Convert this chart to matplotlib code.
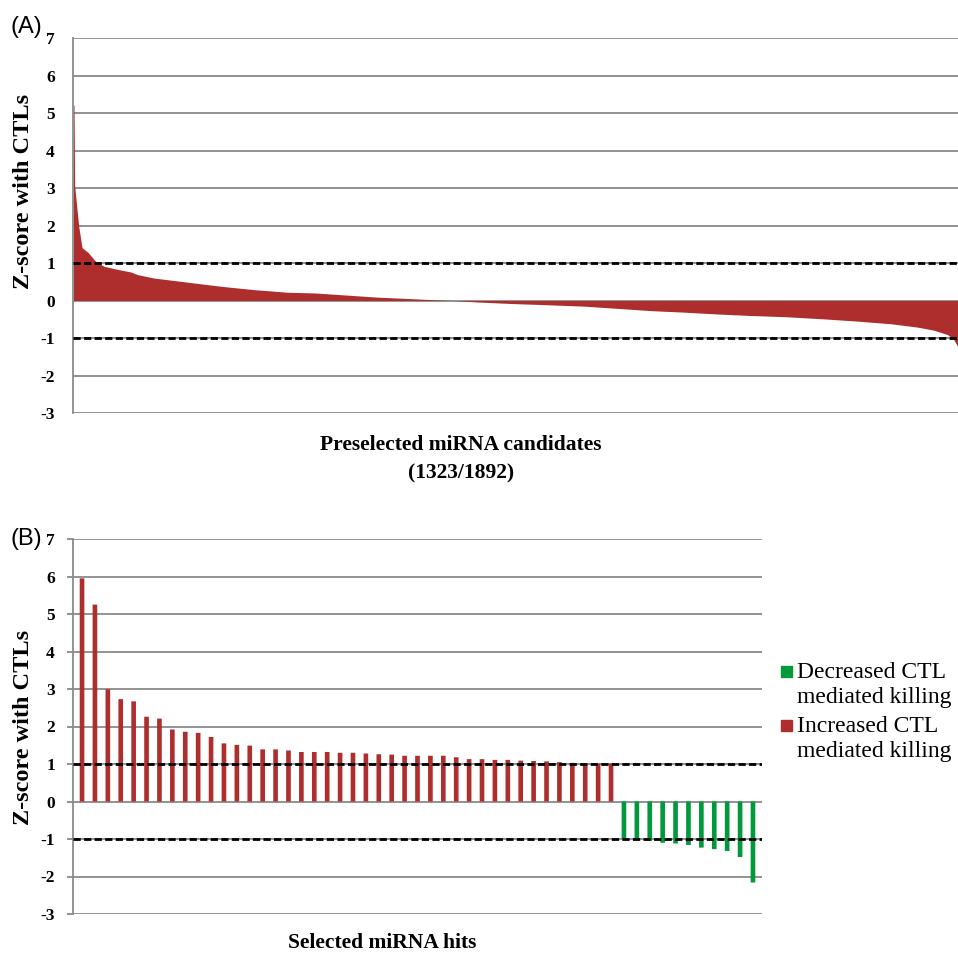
import matplotlib
matplotlib.use("Agg")
import matplotlib.pyplot as plt
from matplotlib.patches import Rectangle

# ---------------- Data ----------------
# Panel A: sorted Z-scores of 1323 preselected candidates as (rank, z)
n_candidates = 1323
a_rank = [0, 1, 2, 6, 8, 13, 22, 33, 46, 66, 86, 96, 120, 170, 220, 270, 320, 362,
          404, 454, 504, 539, 568, 604, 654, 703, 763, 813, 863, 912, 963, 1012,
          1062, 1122, 1172, 1222, 1262, 1286, 1307, 1316, 1322]
a_z = [5.23, 5.2, 3.05, 2.34, 1.98, 1.41, 1.28, 1.05, 0.91, 0.83, 0.76, 0.69, 0.60,
       0.49, 0.38, 0.29, 0.22, 0.20, 0.15, 0.09, 0.05, 0.02, 0.0, -0.04, -0.08,
       -0.11, -0.15, -0.21, -0.27, -0.31, -0.36, -0.40, -0.43, -0.49, -0.55, -0.62,
       -0.71, -0.79, -0.91, -1.04, -1.22]

# Panel B: selected hits
b_increased = [5.95, 5.25, 2.99, 2.73, 2.67, 2.26, 2.21, 1.92, 1.86, 1.83, 1.72, 1.55,
               1.51, 1.49, 1.39, 1.39, 1.36, 1.32, 1.32, 1.32, 1.30, 1.30, 1.28, 1.26,
               1.25, 1.22, 1.22, 1.22, 1.22, 1.18, 1.13, 1.13, 1.11, 1.11, 1.09, 1.08,
               1.07, 1.05, 1.03, 1.01, 1.01, 1.01]
b_decreased = [-0.99, -0.99, -1.05, -1.10, -1.12, -1.16, -1.23, -1.27, -1.32, -1.48, -2.16]

y_ticks = [-3, -2, -1, 0, 1, 2, 3, 4, 5, 6, 7]
threshold = [1, -1]

legend_labels = ["Decreased CTL\nmediated killing", "Increased CTL\nmediated killing"]

# ---------------- Style ----------------
RED = "#AE2D2D"
GREEN = "#009A3C"
GRID = "#8a8a8a"
serif = "Liberation Serif"
W, H = 958, 957

fig = plt.figure(figsize=(W / 100, H / 100), dpi=100)


def style_axes(ax, ticklen, pad):
    ax.set_ylim(-3, 7)
    ax.set_yticks(y_ticks)
    ax.set_yticklabels([str(t) for t in y_ticks], fontfamily=serif,
                       fontweight="bold", fontsize=12.5)
    ax.set_xticks([])
    for v in y_ticks:
        ax.axhline(v, color=GRID, lw=1.3, zorder=0)
    for t in threshold:
        ax.axhline(t, color="black", lw=2.0, ls=(0, (2.6, 1.2)), zorder=4)
    for s in ["top", "right", "bottom"]:
        ax.spines[s].set_visible(False)
    ax.spines["left"].set_color(GRID)
    ax.spines["left"].set_linewidth(1.3)
    ax.tick_params(axis="y", length=ticklen, width=1.3, color=GRID, pad=pad,
                   direction="out")


# Panel A
axA = fig.add_axes([73 / W, 1 - 413 / H, (958 - 73) / W, 375 / H])
axA.fill_between(a_rank, a_z, 0, color=RED, linewidth=0, zorder=2)
axA.set_xlim(-0.5, n_candidates - 0.5)
style_axes(axA, 0, 13)

# Panel B
axB = fig.add_axes([73 / W, 1 - 914 / H, (762 - 73) / W, 375 / H])
xr = list(range(len(b_increased)))
xg = list(range(len(b_increased), len(b_increased) + len(b_decreased)))
axB.bar(xr, b_increased, width=0.36, color=RED, linewidth=0, snap=False, zorder=2)
axB.bar(xg, b_decreased, width=0.36, color=GREEN, linewidth=0, snap=False, zorder=2)
axB.set_xlim(-0.7, len(xr) + len(xg) - 0.3)
style_axes(axB, 4, 9)

# Axis titles
fig.text(24 / W, 1 - 191 / H, "Z-score with CTLs", rotation=90, ha="center",
         va="center", fontfamily=serif, fontweight="bold", fontsize=17.5)
fig.text(24 / W, 1 - 727 / H, "Z-score with CTLs", rotation=90, ha="center",
         va="center", fontfamily=serif, fontweight="bold", fontsize=17.5)
fig.text(461 / W, 1 - 445 / H, "Preselected miRNA candidates", ha="center",
         va="center", fontfamily=serif, fontweight="bold", fontsize=15.5)
fig.text(461 / W, 1 - 473 / H, "(1323/1892)", ha="center", va="center",
         fontfamily=serif, fontweight="bold", fontsize=15.5)
fig.text(382 / W, 1 - 943 / H, "Selected miRNA hits", ha="center", va="center",
         fontfamily=serif, fontweight="bold", fontsize=15.5)

# Panel letters
fig.text(10 / W, 1 - 27 / H, "(A)", ha="left", va="center",
         fontfamily="Liberation Sans", fontsize=17)
fig.text(10 / W, 1 - 539 / H, "(B)", ha="left", va="center",
         fontfamily="Liberation Sans", fontsize=17)

# Legend
for i, (lab, col) in enumerate(zip(legend_labels, [GREEN, RED])):
    ytop = 672 + i * 54
    fig.patches.append(Rectangle((781 / W, 1 - (ytop + 5) / H), 11 / W, 11 / H,
                                 transform=fig.transFigure, color=col))
    l1, l2 = lab.split("\n")
    fig.text(797 / W, 1 - ytop / H, l1, ha="left", va="center",
             fontfamily=serif, fontsize=17)
    fig.text(797 / W, 1 - (ytop + 25) / H, l2, ha="left", va="center",
             fontfamily=serif, fontsize=17)

fig.savefig("out.png", dpi=100)
